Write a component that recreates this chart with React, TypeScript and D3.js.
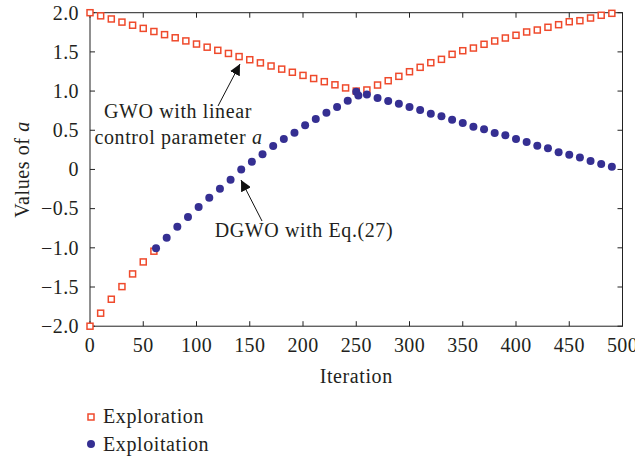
import React from "react";
import * as d3 from "d3";

// Exploration (red squares): upper branch
const exploreUpperT = [0,10,20,30,40,50,60,70,80,90,100,110,120,130,140,150,160,170,180,190,200,210,220,230,240,250,
  260,270,280,290,300,310,320,330,340,350,360,370,380,390,400,410,420,430,440,450,460,470,480,490];
const exploreUpperV = [2.0,1.96,1.92,1.88,1.84,1.80,1.76,1.72,1.68,1.64,1.60,1.56,1.52,1.48,1.44,1.40,1.36,1.32,1.28,1.24,1.20,1.16,1.12,1.08,1.04,1.00,
  1.014,1.077,1.132,1.188,1.247,1.303,1.362,1.405,1.469,1.515,1.549,1.597,1.639,1.677,1.712,1.754,1.779,1.814,1.847,1.885,1.898,1.932,1.967,1.992];
// Exploration (red squares): lower branch
const exploreLowerT = [0,10,20,30,40,50,60];
const exploreLowerV = [-2.0,-1.834,-1.656,-1.495,-1.333,-1.18,-1.043];

// Exploitation (blue circles)
const exploitT = [62,72,82,92,102,112,122,132,142,152,162,172,182,192,202,212,222,232,242,250,252,
  260,270,280,290,300,310,320,330,340,350,360,370,380,390,400,410,420,430,440,450,460,470,480,490];
const exploitV = [-1.007,-0.872,-0.731,-0.608,-0.48,-0.361,-0.246,-0.131,-0.001,0.098,0.193,0.299,0.388,0.468,0.563,0.643,0.724,0.796,0.877,0.992,0.943,
  0.956,0.911,0.873,0.839,0.796,0.758,0.711,0.678,0.634,0.592,0.545,0.512,0.465,0.436,0.388,0.35,0.303,0.269,0.218,0.188,0.154,0.107,0.069,0.034];

const xTicks = [0,50,100,150,200,250,300,350,400,450,500];
const yTicks = [-2,-1.5,-1,-0.5,0,0.5,1,1.5,2];

const RED = "#ef4a2c";
const BLUE = "#352f92";
const TEXT = "#231f20";
const FONT = "'Liberation Serif', 'Times New Roman', serif";

export default function App() {
  const W = 635, H = 460;
  const x = d3.scaleLinear().domain([0, 500]).range([90, 622.5]);
  const y = d3.scaleLinear().domain([-2, 2]).range([326.2, 12.7]);
  const [x0, x1] = x.range();
  const [y0, y1] = y.range();
  const tl = 5;
  const fmtY = (v: number) => (v === 0 ? "0" : (v < 0 ? "\u2212" : "") + Math.abs(v).toFixed(1));

  const upper = exploreUpperT.map((t, i) => [t, exploreUpperV[i]]);
  const lower = exploreLowerT.map((t, i) => [t, exploreLowerV[i]]);
  const blue = exploitT.map((t, i) => [t, exploitV[i]]);
  const sq = 6;
  const fs = 20;
  const ls = 0.6;

  return (
    <svg width={W} height={H} style={{ position: "absolute", left: 0, top: 0, display: "block", background: "#fff" }}
      fontFamily={FONT} fill={TEXT}>
      <defs>
        <marker id="ah" viewBox="0 0 10 10" refX="10" refY="5" markerWidth="11" markerHeight="11"
          markerUnits="userSpaceOnUse" orient="auto">
          <path d="M0,0 L10,5 L0,10 z" fill="#111" />
        </marker>
      </defs>
      {/* frame */}
      <rect x={x0} y={y1} width={x1 - x0} height={y0 - y1} fill="none" stroke="#222" strokeWidth={1} />
      {xTicks.map((t) => (
        <g key={"xt" + t}>
          <line x1={x(t)} x2={x(t)} y1={y0} y2={y0 - tl} stroke="#222" />
          <line x1={x(t)} x2={x(t)} y1={y1} y2={y1 + tl} stroke="#222" />
          <text x={x(t)} y={352} textAnchor="middle" fontSize={fs} letterSpacing={0.4}>{t}</text>
        </g>
      ))}
      {yTicks.map((v) => (
        <g key={"yt" + v}>
          <line x1={x0} x2={x0 + tl} y1={y(v)} y2={y(v)} stroke="#222" />
          <line x1={x1} x2={x1 - tl} y1={y(v)} y2={y(v)} stroke="#222" />
          <text x={79} y={y(v)} dy="0.34em" textAnchor="end" fontSize={fs} letterSpacing={0.4}>{fmtY(v)}</text>
        </g>
      ))}
      <text x={(x0 + x1) / 2} y={383} textAnchor="middle" fontSize={fs} letterSpacing={ls}>Iteration</text>
      <text transform={`translate(29,${(y0 + y1) / 2}) rotate(-90)`} textAnchor="middle" fontSize={fs} letterSpacing={ls}>
        Values of <tspan fontStyle="italic">a</tspan>
      </text>

      {/* exploration squares */}
      {[...upper, ...lower].map(([t, v], i) => (
        <rect key={"r" + i} x={x(t) - sq / 2} y={y(v) - sq / 2} width={sq} height={sq}
          fill="#fff" stroke={RED} strokeWidth={1.5} />
      ))}
      {/* exploitation circles */}
      {blue.map(([t, v], i) => (
        <circle key={"b" + i} cx={x(t)} cy={y(v)} r={4} fill={BLUE} />
      ))}

      {/* annotations */}
      <line x1={218} y1={106} x2={240} y2={64} stroke="#111" strokeWidth={1} markerEnd="url(#ah)" />
      <text x={178} y={118} textAnchor="middle" fontSize={fs} letterSpacing={ls}>GWO with linear</text>
      <text x={178.5} y={144} textAnchor="middle" fontSize={fs} letterSpacing={ls}>
        control parameter <tspan fontStyle="italic">a</tspan>
      </text>
      <line x1={262} y1={221} x2={241} y2={180} stroke="#111" strokeWidth={1} markerEnd="url(#ah)" />
      <text x={304} y={237} textAnchor="middle" fontSize={fs} letterSpacing={ls}>DGWO with Eq.(27)</text>

      {/* legend */}
      <rect x={91 - sq / 2} y={417 - sq / 2} width={sq} height={sq} fill="#fff" stroke={RED} strokeWidth={1.5} />
      <text x={103} y={423} fontSize={fs} letterSpacing={ls}>Exploration</text>
      <circle cx={91} cy={444} r={4} fill={BLUE} />
      <text x={103} y={451} fontSize={fs} letterSpacing={ls}>Exploitation</text>
    </svg>
  );
}
